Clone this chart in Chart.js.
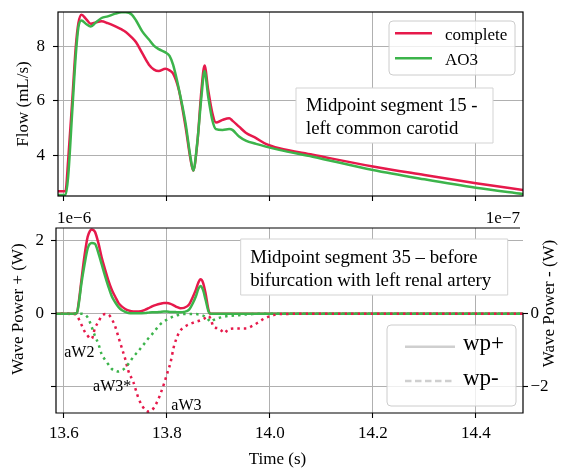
<!DOCTYPE html>
<html>
<head>
<meta charset="utf-8">
<script src="https://cdn.jsdelivr.net/npm/chart.js@4/dist/chart.umd.min.js"></script>
<style>
  html, body { margin: 0; padding: 0; background: #fff; }
  #wrap { position: relative; width: 561px; height: 468px; }
  #wrap canvas { position: absolute; left: 0; top: 0; }
</style>
</head>
<body>
<div id="wrap">
  <canvas id="flow" width="561" height="468"></canvas>
  <canvas id="wave" width="561" height="468"></canvas>
</div>
<script>
/* top panel: flow at midpoint of segment 15 (left common carotid) */
const tFlow = [13.586, 13.600, 13.603, 13.608, 13.616, 13.623, 13.628, 13.634, 13.643, 13.652,
  13.662, 13.673, 13.685, 13.700, 13.712, 13.720, 13.732, 13.740, 13.752, 13.765,
  13.775, 13.784, 13.797, 13.805, 13.812, 13.823, 13.836, 13.846, 13.851, 13.859,
  13.867, 13.873, 13.880, 13.888, 13.895, 13.908, 13.921, 13.927, 13.940, 13.953,
  13.973, 13.992, 14.018, 14.083, 14.200, 14.300, 14.400, 14.492];
const flowComplete = [2.70, 2.69, 2.70, 3.80, 6.00, 8.00, 8.85, 9.16, 9.00, 8.83,
  8.88, 8.92, 8.85, 8.73, 8.62, 8.53, 8.32, 8.15, 7.75, 7.33,
  7.15, 7.10, 7.18, 7.12, 7.00, 6.41, 5.06, 3.84, 3.45, 4.47,
  6.41, 7.30, 6.41, 5.57, 5.21, 5.31, 5.37, 5.28, 5.06, 4.84,
  4.64, 4.43, 4.27, 4.03, 3.60, 3.29, 2.99, 2.74];
const flowAO3 = [2.56, 2.56, 2.56, 3.20, 5.60, 7.70, 8.70, 8.95, 8.82, 8.73,
  8.88, 9.04, 9.10, 9.20, 9.25, 9.25, 9.16, 8.95, 8.55, 8.25,
  8.02, 7.90, 7.78, 7.65, 7.32, 6.45, 5.20, 3.90, 3.45, 4.50,
  6.17, 7.10, 6.17, 5.31, 4.97, 4.94, 4.97, 4.94, 4.70, 4.55,
  4.43, 4.33, 4.21, 3.96, 3.47, 3.13, 2.82, 2.59];
const timeTicks = [13.6, 13.8, 14.0, 14.2, 14.4];
const flowTicks = [4, 6, 8];

/* bottom panel: wave power at midpoint of segment 35
   wp+ in units of 1e-6 W (left axis), wp- in units of 1e-7 W (right axis) */
const tWave = [13.581, 13.620, 13.625, 13.629, 13.634, 13.640, 13.646, 13.650, 13.654, 13.660,
  13.667, 13.673, 13.680, 13.686, 13.693, 13.700, 13.706, 13.712, 13.719, 13.725,
  13.735, 13.745, 13.758, 13.764, 13.771, 13.779, 13.787, 13.794, 13.800, 13.807,
  13.813, 13.820, 13.826, 13.833, 13.843, 13.850, 13.856, 13.861, 13.865, 13.870,
  13.875, 13.881, 13.885, 13.891, 13.898, 13.905, 13.911, 13.920, 13.940, 13.953,
  13.966, 13.977, 13.989, 14.002, 14.018, 14.100, 14.492];
const wpPlusComplete = [0, 0, 0.02, 0.35, 0.93, 1.60, 2.10, 2.25, 2.30, 2.24,
  1.92, 1.55, 1.20, 0.92, 0.65, 0.45, 0.29, 0.20, 0.13, 0.09,
  0.06, 0.06, 0.11, 0.15, 0.20, 0.24, 0.27, 0.29, 0.29, 0.27,
  0.23, 0.18, 0.15, 0.16, 0.25, 0.45, 0.65, 0.85, 0.94, 0.85,
  0.55, 0.08, 0, 0, 0, 0, 0, 0, 0, 0,
  0, 0, 0, 0, 0, 0, 0];
const wpPlusAO3 = [0, 0, 0.02, 0.30, 0.84, 1.35, 1.78, 1.90, 1.93, 1.91,
  1.65, 1.36, 1.02, 0.75, 0.47, 0.30, 0.18, 0.10, 0.05, 0.02,
  0.01, 0.01, 0.02, 0.03, 0.04, 0.04, 0.05, 0.06, 0.06, 0.05,
  0.05, 0.04, 0.04, 0.05, 0.11, 0.28, 0.47, 0.68, 0.76, 0.65,
  0.38, 0.05, 0, 0, 0, 0, 0, 0, 0, 0,
  0, 0, 0, 0, 0, 0, 0];
const wpMinusComplete = [0, -0.01, -0.05, -0.15, -0.30, -0.48, -0.60, -0.67, -0.68, -0.40,
  -0.22, -0.07, -0.01, -0.02, -0.15, -0.37, -0.65, -0.92, -1.24, -1.56,
  -1.88, -2.32, -2.63, -2.67, -2.63, -2.46, -2.20, -1.92, -1.65, -1.33,
  -0.92, -0.62, -0.46, -0.37, -0.29, -0.25, -0.22, -0.20, -0.18, -0.15,
  -0.11, -0.06, -0.15, -0.37, -0.39, -0.45, -0.53, -0.42, -0.40, -0.40,
  -0.33, -0.24, -0.13, -0.06, -0.01, 0, 0];
const wpMinusAO3 = [0, 0, 0, 0, 0, -0.02, -0.10, -0.22, -0.37, -0.60,
  -0.83, -1.10, -1.26, -1.38, -1.51, -1.56, -1.58, -1.55, -1.48, -1.37,
  -1.17, -1.01, -0.78, -0.67, -0.56, -0.42, -0.29, -0.21, -0.16, -0.11,
  -0.07, -0.04, -0.02, -0.01, -0.01, -0.01, -0.01, -0.02, -0.03, -0.05,
  -0.09, -0.17, -0.22, -0.17, -0.13, -0.10, -0.08, -0.06, -0.04, -0.02,
  -0.01, 0, 0, 0, 0, 0, 0];
const wpPlusTicks = [-2, 0, 2];
const wpMinusTicks = [-2, 0];
// wave labels, anchored in (time, wp-) coordinates
const waveNames = ['aW2', 'aW3*', 'aW3'];
const waveNameT = [13.6005, 13.6565, 13.8085];
const waveNameY = [-1.17, -2.11, -2.62];

const RED = '#e6194b';
const GREEN = '#3cb44b';
const SERIF = "'Liberation Serif', 'DejaVu Serif', serif";
Chart.defaults.font.family = SERIF;
Chart.defaults.color = '#000';

const pts = (xs, ys) => xs.map((x, i) => ({ x, y: ys[i] }));
const fixTicks = vals => scale => { scale.ticks = vals.map(v => ({ value: v })); };
const minus = v => (v < 0 ? '\u2212' + Math.abs(v) : String(v));
const noPad = s => { s.paddingLeft = s.paddingRight = s.paddingTop = s.paddingBottom = 0; };
const grid = { color: '#b0b0b0', lineWidth: 1, tickColor: '#000', tickWidth: 1.1, tickLength: 5 };

function label(ctx, str, x, y, size, opt = {}) {
  ctx.save();
  ctx.font = size + 'px ' + SERIF;
  ctx.fillStyle = '#000';
  ctx.textAlign = opt.align || 'left';
  ctx.textBaseline = opt.baseline || 'alphabetic';
  ctx.translate(x, y);
  if (opt.rot) ctx.rotate(opt.rot);
  ctx.fillText(str, 0, 0);
  ctx.restore();
}

function box(ctx, x, y, w, h, round, edge) {
  ctx.save();
  ctx.beginPath();
  if (round && ctx.roundRect) ctx.roundRect(x, y, w, h, round);
  else ctx.rect(x, y, w, h);
  ctx.fillStyle = round ? 'rgba(255,255,255,0.8)' : '#fff';
  ctx.fill();
  ctx.strokeStyle = edge;
  ctx.lineWidth = 1;
  ctx.stroke();
  ctx.restore();
}

function seg(ctx, x1, y1, x2, y2, color, width, dash) {
  ctx.save();
  ctx.beginPath();
  ctx.setLineDash(dash || []);
  ctx.strokeStyle = color;
  ctx.lineWidth = width;
  ctx.moveTo(x1, y1);
  ctx.lineTo(x2, y2);
  ctx.stroke();
  ctx.restore();
}

const flowPanel = {
  id: 'flowPanel',
  afterDatasetsDraw(chart) {
    const { ctx, chartArea: ca } = chart;
    // text box
    const ax = ca.left + 238, ay = ca.top + 76;
    box(ctx, ax, ay, 197, 55, 0, '#d3d3d3');
    label(ctx, 'Midpoint segment 15 -', ax + 10, ay + 23, 18.8);
    label(ctx, 'left common carotid', ax + 10, ay + 45.5, 18.8);
    // legend
    const lx = ca.right - 134, ly = ca.top + 9;
    box(ctx, lx, ly, 126, 54, 4, '#cccccc');
    chart.data.datasets.forEach((ds, i) => {
      const y = ly + 12.3 + i * 25;
      seg(ctx, lx + 6, y, lx + 43, y, ds.borderColor, 2.5);
      label(ctx, ds.label, lx + 56, y + 6.5, 17);
    });
  },
  afterDraw(chart) {
    const { ctx, chartArea: ca } = chart;
    ctx.save();
    ctx.strokeStyle = '#000';
    ctx.lineWidth = 1.2;
    ctx.strokeRect(ca.left, ca.top, ca.right - ca.left, ca.bottom - ca.top);
    ctx.restore();
  }
};

const wavePanel = {
  id: 'wavePanel',
  afterDatasetsDraw(chart) {
    const { ctx, chartArea: ca, scales } = chart;
    // text box
    const ax = ca.left + 184.7, ay = ca.top + 11;
    box(ctx, ax, ay, 267, 56, 0, '#d3d3d3');
    label(ctx, 'Midpoint segment 35 \u2013 before', ax + 9.5, ay + 24.3, 18.8);
    label(ctx, 'bifurcation with left renal artery', ax + 9.5, ay + 46.5, 18.8);
    // legend
    const lx = ca.right - 136, ly = ca.top + 97;
    box(ctx, lx, ly, 129, 81, 4, '#cccccc');
    seg(ctx, lx + 18, ly + 21.7, lx + 68, ly + 21.7, '#cfcfcf', 2.5);
    label(ctx, 'wp+', lx + 76, ly + 25, 23);
    seg(ctx, lx + 18, ly + 56, lx + 68, ly + 56, '#cfcfcf', 2.5, [6.5, 3.5]);
    label(ctx, 'wp-', lx + 76, ly + 59.5, 23);
    // wave names
    waveNames.forEach((name, i) => {
      label(ctx, name, scales.x.getPixelForValue(waveNameT[i]), scales.y2.getPixelForValue(waveNameY[i]), 16);
    });
  },
  afterDraw(chart) {
    const { ctx, chartArea: ca, scales } = chart;
    const zero = scales.y2.getPixelForValue(0);
    ctx.save();
    ctx.strokeStyle = '#000';
    ctx.lineWidth = 1.2;
    ctx.beginPath();
    ctx.moveTo(ca.right - 3, ca.top);
    ctx.lineTo(ca.left, ca.top);
    ctx.lineTo(ca.left, ca.bottom);
    ctx.lineTo(ca.right, ca.bottom);
    ctx.lineTo(ca.right, zero - 1);
    ctx.stroke();
    ctx.restore();
    // offset texts and axis titles
    label(ctx, '1e\u22126', ca.left + 1, ca.top - 5, 17);
    label(ctx, '1e\u22127', ca.right - 3, ca.top - 5, 17, { align: 'right' });
    label(ctx, 'Wave Power + (W)', 18.5, 309, 17, { align: 'center', baseline: 'middle', rot: -Math.PI / 2 });
    label(ctx, 'Wave Power - (W)', 550, 303.5, 17, { align: 'center', baseline: 'middle', rot: -Math.PI / 2 });
    label(ctx, 'Time (s)', 277.5, 463.7, 17, { align: 'center' });
  }
};

new Chart(document.getElementById('flow'), {
  type: 'line',
  data: {
    datasets: [
      { label: 'complete', data: pts(tFlow, flowComplete), borderColor: RED, order: 1 },
      { label: 'AO3', data: pts(tFlow, flowAO3), borderColor: GREEN, order: 0 }
    ]
  },
  options: {
    responsive: false, animation: false, events: [],
    layout: { padding: { left: 0, top: 12, right: 38, bottom: 267 } },
    elements: { line: { borderWidth: 2.5, cubicInterpolationMode: 'monotone' }, point: { radius: 0 } },
    plugins: { legend: { display: false }, tooltip: { enabled: false } },
    scales: {
      x: {
        type: 'linear', min: 13.5884, max: 14.4914,
        afterBuildTicks: fixTicks(timeTicks),
        ticks: { display: false },
        grid, border: { display: false },
        afterFit: s => { s.height = 5; noPad(s); }
      },
      y: {
        min: 2.52, max: 9.26,
        afterBuildTicks: fixTicks(flowTicks),
        ticks: { font: { size: 17 }, padding: 8, callback: v => String(v) },
        grid, border: { display: false },
        title: { display: true, text: 'Flow (mL/s)', font: { size: 17 }, padding: { top: 13.3, bottom: 0 } },
        afterFit: s => { s.width = 58; noPad(s); }
      }
    }
  },
  plugins: [flowPanel]
});

new Chart(document.getElementById('wave'), {
  type: 'line',
  data: {
    datasets: [
      { label: 'wp+ complete', data: pts(tWave, wpPlusComplete), borderColor: RED, yAxisID: 'y', order: 3 },
      { label: 'wp+ AO3', data: pts(tWave, wpPlusAO3), borderColor: GREEN, yAxisID: 'y', order: 2 },
      { label: 'wp- complete', data: pts(tWave, wpMinusComplete), borderColor: RED, yAxisID: 'y2', borderDash: [2.5, 4], order: 1 },
      { label: 'wp- AO3', data: pts(tWave, wpMinusAO3), borderColor: GREEN, yAxisID: 'y2', borderDash: [2.5, 4], order: 0 }
    ]
  },
  options: {
    responsive: false, animation: false, events: [],
    layout: { padding: { left: 0, top: 228, right: 0, bottom: 0 } },
    elements: { line: { borderWidth: 2.5, cubicInterpolationMode: 'monotone' }, point: { radius: 0 } },
    plugins: { legend: { display: false }, tooltip: { enabled: false } },
    scales: {
      x: {
        type: 'linear', min: 13.5845, max: 14.4914,
        afterBuildTicks: fixTicks(timeTicks),
        ticks: { font: { size: 17 }, padding: 5.5, maxRotation: 0, callback: v => v.toFixed(1) },
        grid, border: { display: false },
        afterFit: s => { s.height = 55; noPad(s); }
      },
      y: {
        position: 'left', min: -2.71, max: 2.34,
        afterBuildTicks: fixTicks(wpPlusTicks),
        ticks: { font: { size: 17 }, padding: 7, callback: v => (v === -2 ? '' : minus(v)) },
        grid, border: { display: false },
        afterFit: s => { s.width = 56; noPad(s); }
      },
      y2: {
        position: 'right', min: -2.71, max: 2.34,
        afterBuildTicks: fixTicks(wpMinusTicks),
        ticks: { font: { size: 17 }, padding: 2.5, callback: minus },
        grid: { ...grid, drawOnChartArea: false }, border: { display: false },
        afterFit: s => { s.width = 38; noPad(s); }
      }
    }
  },
  plugins: [wavePanel]
});
</script>
</body>
</html>
